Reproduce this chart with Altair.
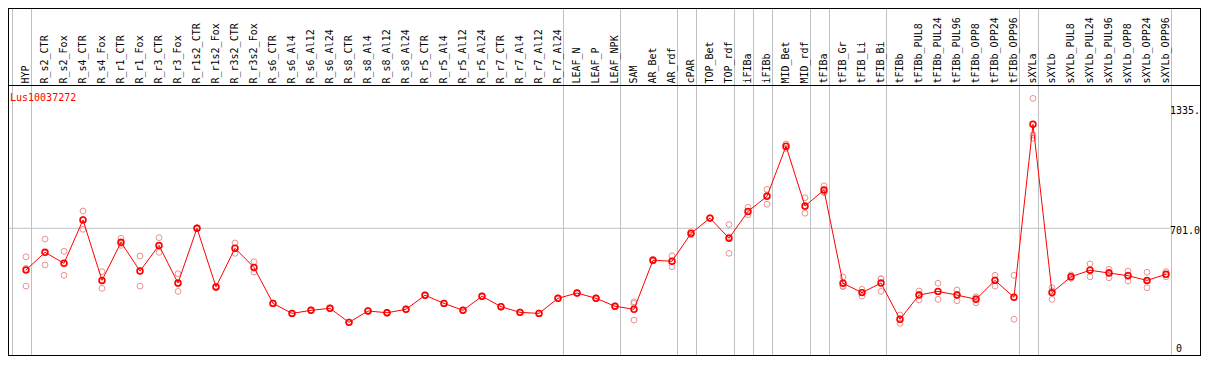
import altair as alt
import pandas as pd

gene = "Lus10037272"

categories = [
    "HYP", "R_s2_CTR", "R_s2_Fox", "R_s4_CTR", "R_s4_Fox", "R_r1_CTR", "R_r1_Fox",
    "R_r3_CTR", "R_r3_Fox", "R_r1s2_CTR", "R_r1s2_Fox", "R_r3s2_CTR", "R_r3s2_Fox",
    "R_s6_CTR", "R_s6_Al4", "R_s6_Al12", "R_s6_Al24", "R_s8_CTR", "R_s8_Al4",
    "R_s8_Al12", "R_s8_Al24", "R_r5_CTR", "R_r5_Al4", "R_r5_Al12", "R_r5_Al24",
    "R_r7_CTR", "R_r7_Al4", "R_r7_Al12", "R_r7_Al24", "LEAF_N", "LEAF_P", "LEAF_NPK",
    "SAM", "AR_Bet", "AR_rdf", "cPAR", "TOP_Bet", "TOP_rdf", "iFIBa", "iFIBb",
    "MID_Bet", "MID_rdf", "tFIBa", "tFIB_Gr", "tFIB_Li", "tFIB_Bi", "tFIBb",
    "tFIBb_PUL8", "tFIBb_PUL24", "tFIBb_PUL96", "tFIBb_OPP8", "tFIBb_OPP24",
    "tFIBb_OPP96", "sXYLa", "sXYLb", "sXYLb_PUL8", "sXYLb_PUL24", "sXYLb_PUL96",
    "sXYLb_OPP8", "sXYLb_OPP24", "sXYLb_OPP96",
]

means = [
    496, 583, 529, 742, 445, 632, 491, 617, 432, 701, 413, 603, 509,
    332, 283, 298, 308, 239, 295, 286, 303, 372, 332, 298, 367,
    316, 288, 283, 357, 383, 357, 318,
    303, 544, 539, 676, 751, 652, 784, 858, 1104, 810, 889,
    431, 385, 432, 254, 373, 391, 373, 352, 445, 362,
    1212, 385, 463, 495, 481, 468, 445, 475,
]

rep1 = [
    561, 648, 588, 786, 488, 652, 565, 655, 478, 704, 416, 629, 537,
    334, 285, 300, 310, 241, 297, 288, 305, 374, 334, 300, 369,
    318, 290, 285, 359, 385, 359, 320,
    340, 548, 566, 684, 753, 719, 804, 892, 1115, 851, 910,
    462, 401, 453, 275, 393, 431, 398, 365, 470, 470,
    1339, 409, 472, 526, 500, 491, 485, 488,
]

rep2 = [
    417, 521, 470, 696, 406, 617, 417, 583, 391, 699, 410, 578, 486,
    330, 281, 296, 306, 237, 293, 284, 301, 370, 330, 296, 365,
    314, 286, 281, 355, 381, 355, 316,
    250, 540, 512, 668, 749, 578, 768, 819, 1094, 775, 881,
    414, 368, 391, 234, 349, 352, 345, 335, 417, 254,
    1159, 352, 455, 463, 458, 442, 409, 463,
]

rep3 = [
    504, 580, 529, 744, 441, 627, 491, 613, 427, 700, 413, 602, 504,
    332, 283, 298, 308, 239, 295, 286, 303, 372, 332, 298, 367,
    316, 288, 283, 357, 383, 357, 318,
    332, 544, 539, 676, 751, 659, 780, 863, 1103, 804, 876,
    417, 386, 452, 253, 377, 390, 376, 356, 448, 362,
    1143, 394, 462, 496, 485, 471, 441, 474,
]

# index of the last column of each group (group separators)
group_ends = [-1, 0, 28, 31, 34, 35, 37, 38, 39, 41, 42, 45, 52, 53, 60]

tick_values = [0, 701.0, 1335.0]
tick_labels = ["0", "701.0", "1335."]

W, H = 1193, 348
FONT = "DejaVu Sans Mono"
GRID = "#c0c0c0"

n = len(categories)
pos = list(range(n))

df_mean = pd.DataFrame({"pos": pos, "val": means, "cat": categories})
df_rep = pd.DataFrame({
    "pos": pos * 3,
    "val": rep1 + rep2 + rep3,
})
df_lab = pd.DataFrame({"pos": pos, "cat": categories})
df_sep = pd.DataFrame({"pos": [b + 5.5 / 19 for b in group_ends]})
df_grid = pd.DataFrame({"val": [tick_values[1]]})
df_one = pd.DataFrame({"a": [0]})

xscale = alt.Scale(domain=[0, 60], range=[18, 1158], nice=False, zero=False)
yscale = alt.Scale(domain=[0, 1335], range=[363, 91.2], nice=False, zero=False)
X = alt.X("pos:Q", scale=xscale, axis=None)
Y = alt.Y("val:Q", scale=yscale, axis=None)

sep = alt.Chart(df_sep).mark_rule(color=GRID, strokeWidth=1).encode(
    x=X, y=alt.value(0), y2=alt.value(H)
)
hgrid = alt.Chart(df_grid).mark_rule(color=GRID, strokeWidth=1).encode(
    y=Y, x=alt.value(0), x2=alt.value(1163)
)

def hline(y, x1=0, x2=W):
    return alt.Chart(df_one).mark_rule(color="black", strokeWidth=1).encode(
        y=alt.value(y), x=alt.value(x1), x2=alt.value(x2)
    )

def vline(x):
    return alt.Chart(df_one).mark_rule(color="black", strokeWidth=1).encode(
        x=alt.value(x), y=alt.value(0), y2=alt.value(H)
    )

borders = [hline(0.5), hline(77.5), hline(H - 0.5),
           vline(0.5), vline(W - 0.5)]

labels = alt.Chart(df_lab).mark_text(
    angle=270, align="left", baseline="middle", font=FONT, fontSize=10, color="black"
).encode(x=X, y=alt.value(75.5), text="cat:N")

title = alt.Chart(pd.DataFrame({"t": [gene]})).mark_text(
    align="left", baseline="middle", font=FONT, fontSize=10, color="#ff0000"
).encode(x=alt.value(2), y=alt.value(89.5), text="t:N")

df_ticks = pd.DataFrame({
    "lab": tick_labels,
    "ty": [341, 222.7, 102.7],
    "tx": [1168, 1162, 1162],
})
ticks = alt.Chart(df_ticks).mark_text(
    align="left", baseline="middle", font=FONT, fontSize=10, color="black"
).encode(
    x=alt.X("tx:Q", scale=None, axis=None),
    y=alt.Y("ty:Q", scale=None, axis=None),
    text="lab:N",
)

reps = alt.Chart(df_rep).mark_point(
    shape="circle", filled=False, color="#ee9090", size=34, strokeWidth=1, opacity=1
).encode(x=X, y=Y)

line = alt.Chart(df_mean).mark_line(color="#ff0000", strokeWidth=1).encode(x=X, y=Y)

pts = alt.Chart(df_mean).mark_point(
    shape="circle", filled=False, color="#ff0000", size=34, strokeWidth=1.6, opacity=1
).encode(x=X, y=Y)

chart = alt.layer(
    sep, hgrid, *borders, labels, title, ticks, reps, line, pts
).properties(
    width=W, height=H, padding=0, autosize=alt.AutoSizeParams(type="none"),
    background="white",
).configure_view(stroke=None)

chart.save("out.html", embed_options={"renderer": "svg", "actions": False})
